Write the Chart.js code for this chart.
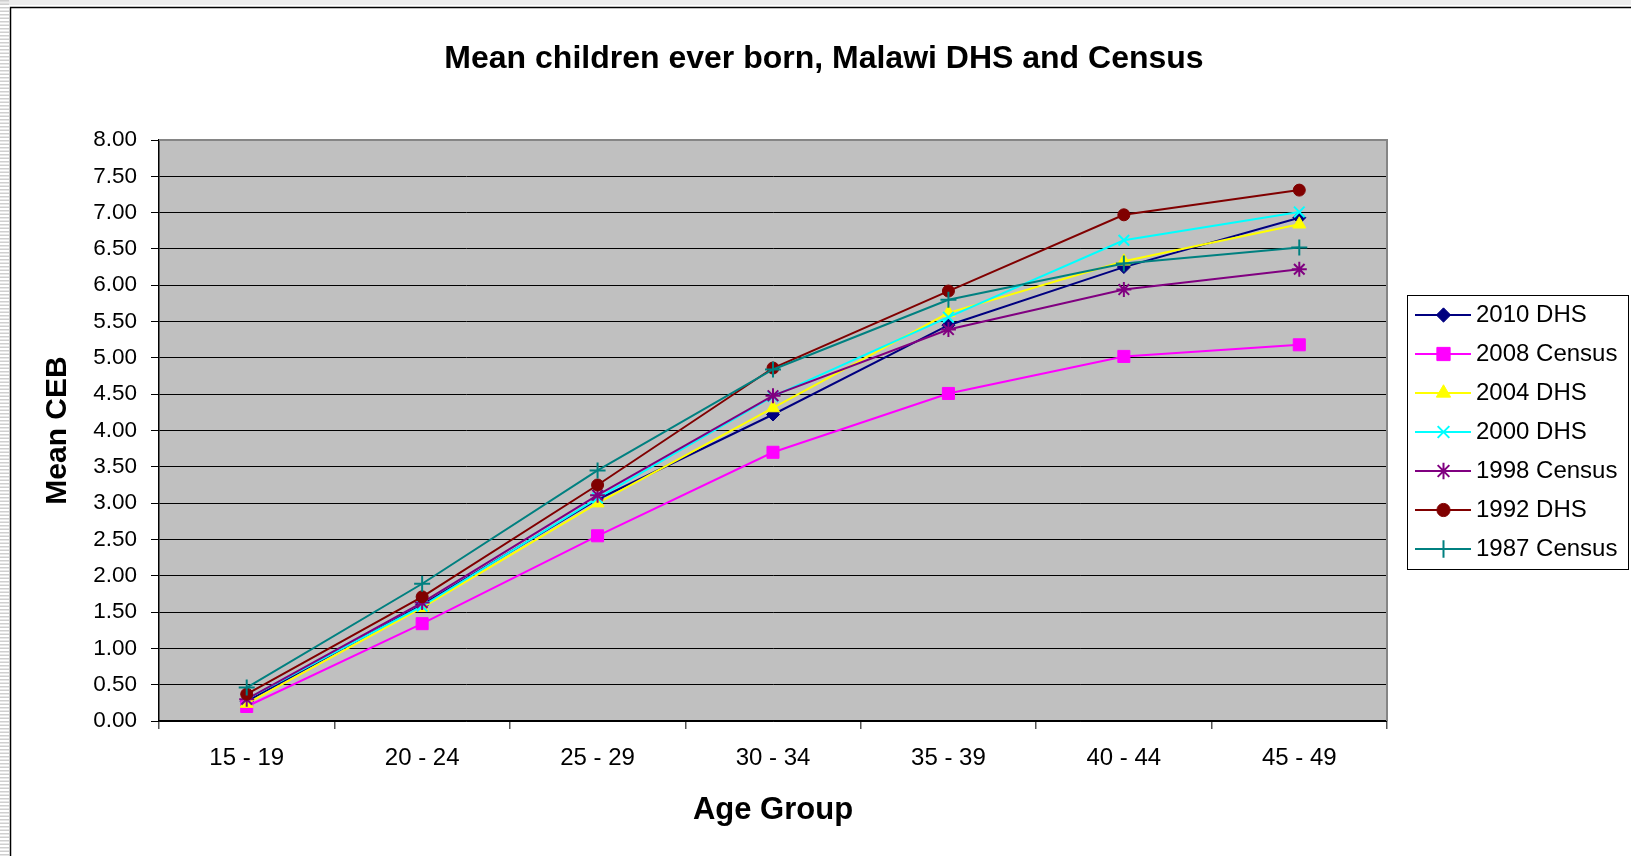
<!DOCTYPE html>
<html>
<head>
<meta charset="utf-8">
<title>Mean children ever born, Malawi DHS and Census</title>
<style>
  html, body { margin: 0; padding: 0; background: #fff; overflow: hidden; }
  canvas { display: block; }
</style>
<script src="https://cdn.jsdelivr.net/npm/chart.js"></script>
</head>
<body>
<canvas id="ceb" width="1631" height="856"></canvas>
<script>
// Age groups of the women
const ageGroups = ['15 - 19', '20 - 24', '25 - 29', '30 - 34', '35 - 39', '40 - 44', '45 - 49'];

// Mean children ever born by survey / census
const dhs2010    = [0.27, 1.60, 3.05, 4.22, 5.45, 6.25, 6.93];
const census2008 = [0.20, 1.34, 2.55, 3.70, 4.51, 5.02, 5.18];
const dhs2004    = [0.24, 1.56, 3.00, 4.31, 5.62, 6.33, 6.84];
const dhs2000    = [0.30, 1.58, 3.07, 4.47, 5.56, 6.62, 7.01];
const census1998 = [0.30, 1.63, 3.11, 4.48, 5.39, 5.94, 6.22];
const dhs1992    = [0.37, 1.71, 3.25, 4.86, 5.92, 6.97, 7.31];
const census1987 = [0.46, 1.89, 3.45, 4.84, 5.80, 6.30, 6.52];

const seriesNames  = ['2010 DHS', '2008 Census', '2004 DHS', '2000 DHS', '1998 Census', '1992 DHS', '1987 Census'];
const seriesValues = [dhs2010, census2008, dhs2004, dhs2000, census1998, dhs1992, census1987];

// Value axis range
const yMin = 0, yMax = 8, yStep = 0.5;

// Line colour and marker for each series
const seriesStyle = [
  { color: '#000080', point: 'rectRot',  radius: 6.5, stroke: 1 },
  { color: '#FF00FF', point: 'rect',     radius: 8.5, stroke: 1 },
  { color: '#FFFF00', point: 'triangle', radius: 7.5, stroke: 1 },
  { color: '#00FFFF', point: 'crossRot', radius: 7.5, stroke: 2 },
  { color: '#800080', point: 'star',     radius: 7.5, stroke: 2 },
  { color: '#800000', point: 'circle',   radius: 6,   stroke: 1 },
  { color: '#008080', point: 'cross',    radius: 8,   stroke: 2 }
];

const FONT = "'Liberation Sans', Arial, Helvetica, sans-serif";
Chart.defaults.font.family = FONT;
Chart.defaults.color = '#000';

const W = 1631, H = 856;
const PLOT_LEFT = 159, PLOT_RIGHT = 1387, PLOT_TOP = 140, PLOT_BOTTOM = 721;
const PAD_TOP = 8;
const TITLE_SIZE = 32, TITLE_PAD_TOP = 32.4;
const LEGEND_FONT = 24, LEGEND_GAP = 15, LEGEND_BOX = 62;

// Size the right-hand padding so the legend starts at the plot's right edge
const measure = document.createElement('canvas').getContext('2d');
measure.font = LEGEND_FONT + 'px ' + FONT;
const legendTextW = Math.max(...seriesNames.map(s => measure.measureText(s).width));
const legendW = LEGEND_GAP + LEGEND_BOX + LEGEND_FONT / 2 + legendTextW + 10;
const padR = Math.max(0, W - PLOT_RIGHT - legendW);
const padL = 17 + padR;

// Legend swatch: a short line with the series marker on it
function makeSwatch(st) {
  const cv = document.createElement('canvas');
  cv.width = 76; cv.height = 24;
  const g = cv.getContext('2d');
  g.strokeStyle = st.color;
  g.lineWidth = 2;
  g.beginPath(); g.moveTo(20, 12); g.lineTo(76, 12); g.stroke();
  g.fillStyle = st.color;
  g.lineWidth = st.stroke;
  Chart.helpers.drawPoint(g, { pointStyle: st.point, radius: st.radius * 1.1, rotation: 0, borderWidth: st.stroke }, 48.5, 12);
  return cv;
}
const swatches = seriesStyle.map(makeSwatch);

const datasets = seriesNames.map((name, i) => ({
  label: name,
  data: seriesValues[i],
  borderColor: seriesStyle[i].color,
  backgroundColor: seriesStyle[i].color,
  borderWidth: 2,
  pointStyle: seriesStyle[i].point,
  pointRadius: seriesStyle[i].radius,
  pointBorderWidth: seriesStyle[i].stroke,
  pointBackgroundColor: seriesStyle[i].color,
  pointBorderColor: seriesStyle[i].color,
  tension: 0,
  order: seriesNames.length - i
}));

// Sheet edge, frame, grey plot area, plot border and legend box
const decor = {
  id: 'decor',
  beforeDraw(chart) {
    const { ctx, chartArea: a } = chart;
    ctx.save();
    ctx.fillStyle = '#fff';
    ctx.fillRect(0, 0, W, H);
    ctx.fillStyle = '#ececec';
    ctx.fillRect(0, 0, W, 5);
    ctx.fillStyle = '#cfcfcf';
    for (let y = 0; y < H; y += 3.5) ctx.fillRect(0, y, 9, 1.5);
    ctx.strokeStyle = '#000';
    ctx.lineWidth = 1.5;
    ctx.beginPath();
    ctx.moveTo(10.5, H); ctx.lineTo(10.5, 7.5); ctx.lineTo(W, 7.5);
    ctx.stroke();
    ctx.fillStyle = '#C0C0C0';
    ctx.fillRect(a.left, a.top, a.right - a.left, a.bottom - a.top);
    ctx.restore();
  },
  beforeDatasetsDraw(chart) {
    const { ctx, chartArea: a } = chart;
    ctx.save();
    ctx.strokeStyle = '#858585';
    ctx.lineWidth = 2;
    ctx.beginPath();
    ctx.moveTo(a.left, a.top); ctx.lineTo(a.right, a.top); ctx.lineTo(a.right, a.bottom);
    ctx.stroke();
    ctx.restore();
  },
  afterDraw(chart) {
    const hb = chart.legend && chart.legend.legendHitBoxes;
    if (!hb || !hb.length) return;
    const first = hb[0], last = hb[hb.length - 1];
    const x0 = Math.round(first.left + 5) + 0.5;
    const y0 = Math.round(first.top - 8) + 0.5;
    const y1 = Math.round(last.top + last.height + 7.5) + 0.5;
    const x1 = W - 2.5;
    const ctx = chart.ctx;
    ctx.save();
    ctx.strokeStyle = '#000';
    ctx.lineWidth = 1;
    ctx.strokeRect(x0, y0, x1 - x0, y1 - y0);
    ctx.restore();
  }
};

new Chart(document.getElementById('ceb'), {
  type: 'line',
  data: { labels: ageGroups, datasets },
  plugins: [decor],
  options: {
    responsive: false,
    animation: false,
    events: [],
    devicePixelRatio: 1,
    layout: { padding: { left: padL, right: padR, top: PAD_TOP, bottom: 0 } },
    plugins: {
      title: {
        display: true,
        text: 'Mean children ever born, Malawi DHS and Census',
        font: { size: TITLE_SIZE, weight: 'bold' },
        color: '#000',
        padding: { top: TITLE_PAD_TOP, bottom: PLOT_TOP - PAD_TOP - TITLE_PAD_TOP - TITLE_SIZE * 1.2 }
      },
      legend: {
        display: true,
        position: 'right',
        align: 'center',
        labels: {
          font: { size: LEGEND_FONT },
          color: '#000',
          padding: LEGEND_GAP,
          usePointStyle: true,
          pointStyleWidth: LEGEND_BOX,
          boxHeight: LEGEND_FONT,
          generateLabels(chart) {
            return chart.data.datasets.map((ds, i) => ({
              text: ds.label,
              pointStyle: swatches[i],
              fillStyle: 'transparent',
              strokeStyle: 'transparent',
              lineWidth: 0,
              hidden: false,
              fontColor: '#000',
              datasetIndex: i
            }));
          }
        }
      },
      tooltip: { enabled: false }
    },
    scales: {
      x: {
        type: 'category',
        offset: true,
        afterFit(scale) { scale.height = H - PLOT_BOTTOM; },
        grid: { display: true, offset: true, drawOnChartArea: false, drawTicks: true, tickLength: 8, color: '#555', lineWidth: 1.5 },
        border: { display: true, color: '#000', width: 1.5 },
        ticks: { font: { size: 24 }, color: '#000', padding: 15, maxRotation: 0, autoSkip: false },
        title: { display: true, text: 'Age Group', font: { size: 31, weight: 'bold' }, color: '#000', padding: { top: 0, bottom: 27 } }
      },
      y: {
        min: yMin,
        max: yMax,
        afterFit(scale) { scale.width = PLOT_LEFT - padL; },
        grid: { display: true, drawOnChartArea: true, drawTicks: true, tickLength: 8, color: '#000', lineWidth: 1 },
        border: { display: true, color: '#000', width: 1.5 },
        ticks: {
          stepSize: yStep,
          font: { size: 22.5 },
          color: '#000',
          padding: 14,
          callback: v => Number(v).toFixed(2)
        },
        title: { display: true, text: 'Mean CEB', font: { size: 30, weight: 'bold' }, color: '#000', padding: { top: 40 - padL, bottom: 0 } }
      }
    }
  }
});
</script>
</body>
</html>
